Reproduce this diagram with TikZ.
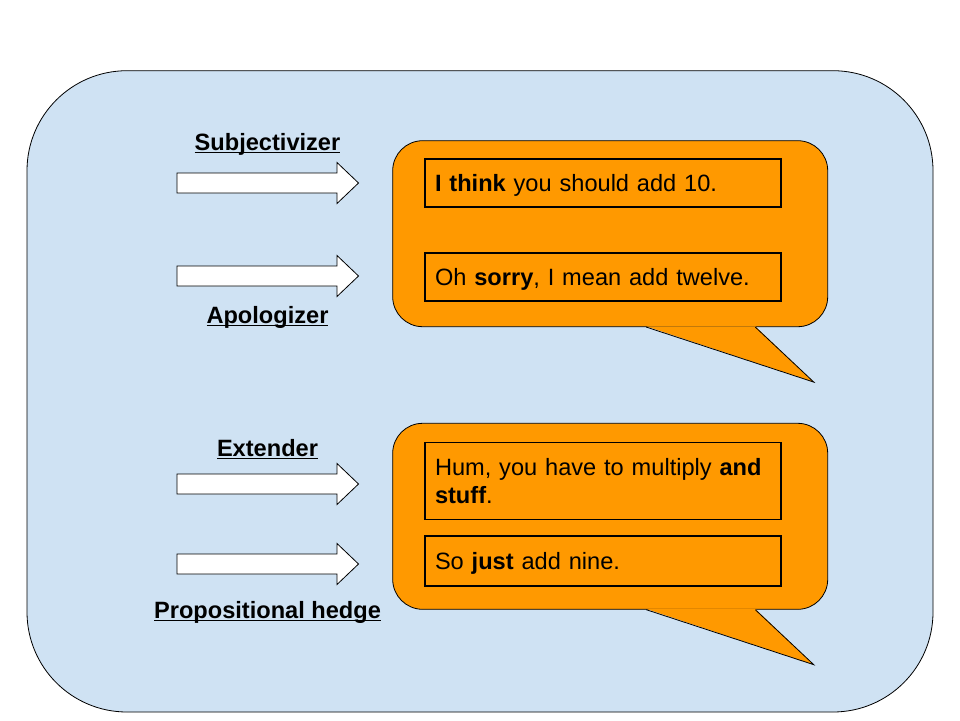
\documentclass[tikz,border=0pt]{standalone}
\usepackage{fontspec}
\setmainfont{Liberation Sans}
\usetikzlibrary{positioning, calc}
\definecolor{panelblue}{HTML}{CFE2F3}
\definecolor{bubbleorange}{HTML}{FF9900}
\newcommand{\ulab}[1]{\setbox0\hbox{\bfseries #1}\rlap{\rule[-3.4pt]{\wd0}{1.7pt}}\box0}

\begin{document}
\begin{tikzpicture}[
        x=1pt, y=-1pt,
        font=\fontsize{23.6}{28}\selectfont,
        panel/.style={draw, fill=panelblue, rounded corners=100pt, line width=0.8pt},
        bubble/.style={draw, fill=bubbleorange, rounded corners=30pt, minimum width=435pt, minimum height=186pt, line width=0.8pt},
        sentence/.style={draw, line width=1.5pt, minimum width=356pt, text width=336pt, inner xsep=10pt, inner ysep=0pt, align=left, text height=17pt, text depth=0pt},
        tag/.style={anchor=base, inner sep=0pt},
        blockarrow/.style={draw, fill=white, line width=0.8pt}
    ]

    \useasboundingbox[fill=white] (0,0) rectangle (960,720);
    \draw[panel] (27,70.7) rectangle (933,712);

    \node[bubble] (bubA) at (610.2,233.7) {};
    \node[bubble] (bubB) at (610.2,516.3) {};

    % speech bubble tails
    \foreach \b in {bubA, bubB} {
        \fill[bubbleorange] ($(\b.south west)+(254,-0.8)$) -- ($(\b.south west)+(421.5,55)$) -- ($(\b.south west)+(363,-0.8)$) -- cycle;
        \draw[line width=0.8pt] ($(\b.south west)+(254,0)$) -- ($(\b.south west)+(421.5,55)$) -- ($(\b.south west)+(363,0)$);
    }

    \node[sentence, minimum height=48pt] (think) at (603,183) {\textbf{I think} you should add 10.};
    \node[sentence, minimum height=48pt, below=44.7pt of think] (sorry) {Oh \textbf{sorry}, I mean add twelve.};
    \node[sentence, minimum height=77pt, text depth=28pt] (stuff) at (603,480.8) {Hum, you have to multiply \textbf{and}\\\textbf{stuff}.};
    \node[sentence, minimum height=50pt, below=15pt of stuff] (nine) {So \textbf{just} add nine.};

    % block arrows
    \foreach \y in {183, 276, 484, 564}
        \draw[blockarrow] (177,\y-10) -- (337,\y-10) -- (337,\y-20.5) -- (358.5,\y) -- (337,\y+20.5) -- (337,\y+10) -- (177,\y+10) -- cycle;

    \node[tag] (subj) at (267.5,150) {\ulab{Subjectivizer}};
    \node[tag] (apol) at (267.5,323) {\ulab{Apologizer}};
    \node[tag] (ext) at (267.5,456) {\ulab{Extender}};
    \node[tag] (hedge) at (267.5,618) {\ulab{Propositional hedge}};

\end{tikzpicture}
\end{document}
